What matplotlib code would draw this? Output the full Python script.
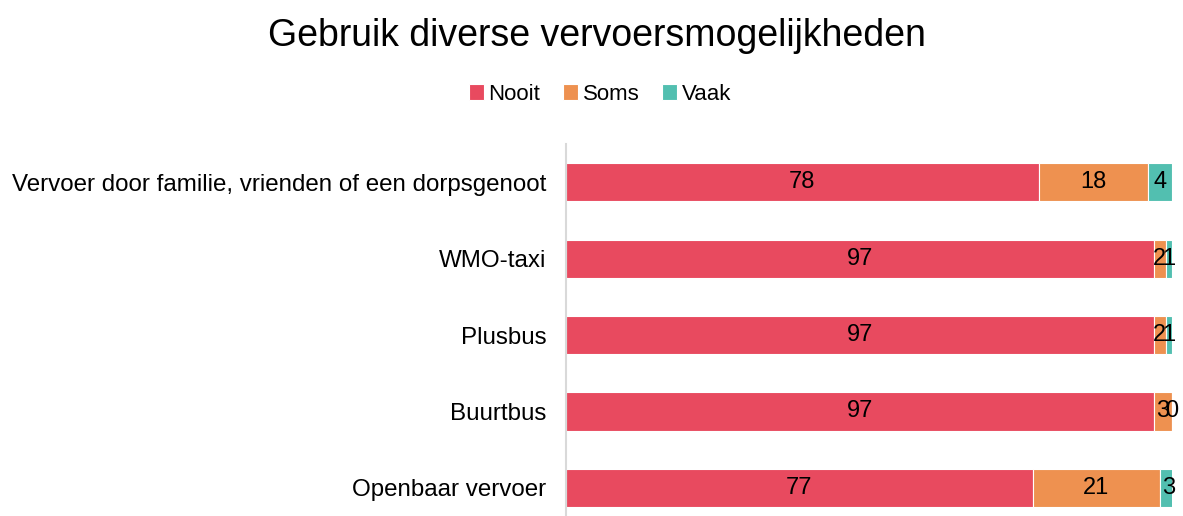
import matplotlib.pyplot as plt
import numpy as np

plt.rcParams['font.family'] = ['Liberation Sans', 'DejaVu Sans']

categories = ['Vervoer door familie, vrienden of een dorpsgenoot', 'WMO-taxi',
              'Plusbus', 'Buurtbus', 'Openbaar vervoer']
nooit = [78, 97, 97, 97, 77]
soms = [18, 2, 2, 3, 21]
vaak = [4, 1, 1, 0, 3]

series = [('Nooit', nooit, '#E84A5F'), ('Soms', soms, '#EE9150'), ('Vaak', vaak, '#52BFB0')]

fig = plt.figure(figsize=(11.83, 5.16), dpi=100)
ax = fig.add_axes([0.4785, -0.0194, 0.5122, 0.7403])

y = np.arange(len(categories))
left = np.zeros(len(categories))
for name, vals, col in series:
    vals = np.array(vals, dtype=float)
    ax.barh(y, vals, left=left, height=0.5, color=col, edgecolor='white',
            linewidth=0.8, label=name)
    for yi, l, v in zip(y, left, vals):
        ax.text(l + v / 2, yi, str(int(v)), ha='center', va='center', fontsize=17)
    left += vals

ax.set_xlim(0, 100)
ax.set_ylim(len(categories) - 0.5, -0.5)
ax.set_yticks(y)
ax.set_yticklabels(categories, fontsize=17.4)
ax.tick_params(axis='y', length=0, pad=14)
ax.set_xticks([])
for s in ['top', 'right', 'bottom']:
    ax.spines[s].set_visible(False)
ax.spines['left'].set_color('#D9D9D9')
ax.spines['left'].set_linewidth(1.5)

fig.suptitle('Gebruik diverse vervoersmogelijkheden', fontsize=27, x=0.505, y=0.965)
fig.legend(loc='center', bbox_to_anchor=(0.507, 0.817), ncol=3, frameon=False,
           fontsize=16, handlelength=0.7, handleheight=0.7, handletextpad=0.2,
           columnspacing=1.0)

fig.savefig('out.png', dpi=100)
